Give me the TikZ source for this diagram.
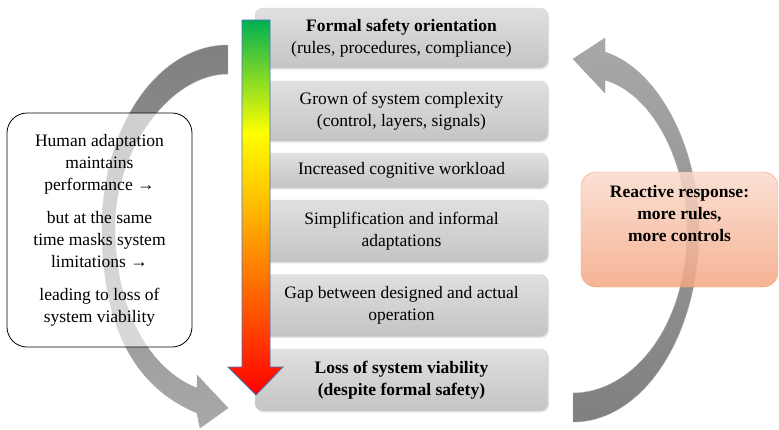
\documentclass[tikz,border=0pt]{standalone}
\usepackage{fontspec}
\setmainfont{Liberation Serif}
\usetikzlibrary{shadows}

\definecolor{stagetop}{RGB}{224,224,224}
\definecolor{stagebot}{RGB}{196,196,196}
\definecolor{stageline}{RGB}{212,212,212}
\definecolor{peachtop}{RGB}{250,218,204}
\definecolor{peachbot}{RGB}{244,166,130}
\definecolor{peachline}{RGB}{244,160,110}
\definecolor{loopdark}{RGB}{128,128,128}
\definecolor{looplight}{RGB}{168,168,168}
\definecolor{arrowline}{RGB}{68,114,196}
\definecolor{safegreen}{RGB}{0,176,80}
\definecolor{safeyellow}{RGB}{255,255,0}
\definecolor{safeamber}{RGB}{255,192,0}
\definecolor{safeorange}{RGB}{255,96,0}
\definecolor{safered}{RGB}{255,0,0}

\pgfdeclareverticalshading{safetyfade}{100bp}{color(0bp)=(safered); color(25bp)=(safered); color(37.7bp)=(safeorange); color(51bp)=(safeamber); color(60bp)=(safeyellow); color(75bp)=(safegreen); color(100bp)=(safegreen)}

\begin{document}
\begin{tikzpicture}[x=1pt,y=-1pt,
	stage/.style={draw=stageline,rounded corners=8pt,top color=stagetop,bottom color=stagebot,minimum width=293pt,align=center,font=\fontsize{17.5}{22}\selectfont,drop shadow={opacity=0.2,shadow xshift=1pt,shadow yshift=-1.5pt}},
	note/.style={align=center,font=\fontsize{17.5}{22}\selectfont,text opacity=1},
	loop/.style={draw=gray!70,line width=0.4pt}]
					\useasboundingbox (0,0) rectangle (779,429);
					
					% feedback loops
					\shade[loop,top color=loopdark,bottom color=looplight] (228,45) -- (228,74) .. controls (170,74) and (115,150) .. (115,227) .. controls (115,310) and (150,370) .. (197,388) -- (197,375) -- (228,408) -- (200,428) -- (197,413) .. controls (130,385) and (102,320) .. (102,227) .. controls (102,127) and (158,45) .. (228,45) -- cycle;
					\shade[loop,top color=looplight,bottom color=loopdark] (573,422) -- (573,393) .. controls (630,393) and (687,330) .. (687,230) .. controls (687,165) and (655,95) .. (605,80) -- (605,93) -- (573,59) -- (605,38) -- (605,52) .. controls (660,70) and (699,150) .. (699,230) .. controls (699,336) and (643,422) .. (573,422) -- cycle;
					
					\node (formal) at (401.5,38) [stage,minimum height=60pt] {\textbf{Formal safety orientation}\\(rules, procedures, compliance)};
					\node (growth) at (401.5,111) [stage,minimum height=60pt] {Grown of system complexity\\(control, layers, signals)};
					\node (workload) at (401.5,170.5) [stage,minimum height=35pt] {Increased cognitive workload};
					\node (informal) at (401.5,231) [stage,minimum height=62pt] {Simplification and informal\\adaptations};
					\node (gap) at (401.5,305.5) [stage,minimum height=62pt] {Gap between designed and actual\\operation};
					\node (viability) at (401.5,380) [stage,minimum height=62pt] {\textbf{Loss of system viability}\\\textbf{(despite formal safety)}};
					
					% erosion arrow
					\shade[shading=safetyfade,draw=arrowline,line width=0.8pt] (242,20) -- (270,20) -- (270,367) -- (283,367) -- (256,395) -- (228,367) -- (242,367) -- cycle;
					
					\node (human) at (99.5,230) [note,draw=black,line width=0.8pt,rounded corners=20pt,fill=white,fill opacity=0.6,minimum width=185pt,minimum height=234pt] {Human adaptation\\maintains\\performance →\\[11pt]but at the same\\time masks system\\limitations →\\[11pt]leading to loss of\\system viability};
					
					\node (reactive) at (679.5,229.5) [note,draw=peachline,rounded corners=15pt,top color=peachtop,bottom color=peachbot,fill opacity=0.85,minimum width=197pt,minimum height=115pt] {};
					\node (reactivetext) at (679.5,214) [note] {\textbf{Reactive response:}\\\textbf{more rules,}\\\textbf{more controls}};
				\end{tikzpicture}
\end{document}
